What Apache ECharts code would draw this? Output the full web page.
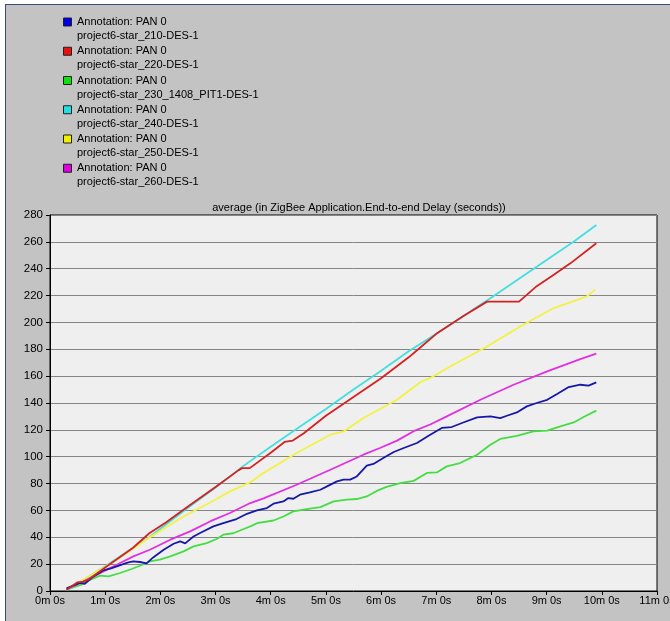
<!DOCTYPE html>
<html>
<head>
<meta charset="utf-8">
<title>ZigBee End-to-end Delay</title>
<script src="https://cdn.jsdelivr.net/npm/echarts@6/dist/echarts.min.js"></script>
<style>
  html, body { margin: 0; padding: 0; background: #ffffff; overflow: hidden; width: 670px; height: 621px; }
  #frame { position: absolute; left: 5px; top: 4px; width: 665px; height: 617px;
           background: #c3c3c3; border-left: 1px solid #3a4a78; border-top: 1px solid #3a4a78; box-sizing: border-box; }
  #chart { position: absolute; left: 0; top: 0; width: 670px; height: 621px; }
</style>
</head>
<body>
<div id="frame"></div>
<div id="chart"></div>
<script>
// Simulation time in minutes, average end-to-end delay in seconds.
const seriesNames = [
  'project6-star_210-DES-1',
  'project6-star_220-DES-1',
  'project6-star_230_1408_PIT1-DES-1',
  'project6-star_240-DES-1',
  'project6-star_250-DES-1',
  'project6-star_260-DES-1'
];
const annotation = 'Annotation: PAN 0';
const lineColors = ['#1818a8', '#d42222', '#44dd44', '#44dede', '#f2f244', '#e030e0'];
const legendColors = ['#0000e8', '#e81010', '#10e010', '#20e0e0', '#f0f000', '#e000e0'];

const xTickLabels = ['0m 0s', '1m 0s', '2m 0s', '3m 0s', '4m 0s', '5m 0s',
  '6m 0s', '7m 0s', '8m 0s', '9m 0s', '10m 0s', '11m 0s'];
const yTicks = [0, 20, 40, 60, 80, 100, 120, 140, 160, 180, 200, 220, 240, 260, 280];
const chartTitle = 'average (in ZigBee Application.End-to-end Delay (seconds))';

const star210 = [[0.3,2],[0.54,6],[0.63,5.4],[0.79,10.9],[0.97,15.4],[1.12,17.1],[1.3,19.6],
  [1.42,21.3],[1.51,22],[1.63,21.6],[1.75,20.6],[1.87,25],[2.06,30.7],[2.24,35.2],[2.36,36.9],
  [2.45,35.5],[2.6,40.6],[2.72,43.2],[2.96,48.1],[3.14,50.6],[3.38,53.6],[3.57,57.5],[3.75,60],
  [3.93,61.8],[4.05,65],[4.23,66.7],[4.32,69.2],[4.41,68.7],[4.53,71.7],[4.71,73.4],[4.9,75.4],
  [5.02,77.9],[5.2,81.6],[5.32,82.9],[5.44,82.9],[5.56,85.3],[5.74,93.3],[5.86,94.6],[6.04,99],
  [6.23,103.5],[6.41,106.5],[6.65,110.2],[6.86,115.6],[7.1,121.4],[7.28,122.1],[7.49,125.5],
  [7.74,129.3],[7.98,130],[8.16,128.8],[8.28,130.5],[8.46,133],[8.64,137.5],[8.82,140],
  [9.01,142.4],[9.19,146.7],[9.4,151.9],[9.61,153.6],[9.76,152.9],[9.9,155.3]];

const star220 = [[0.3,1],[0.5,6.5],[0.6,7],[0.7,8.5],[1.0,17.5],[1.5,32],[1.8,43],[2.1,51],
  [2.5,63],[3.0,77.5],[3.42,90],[3.48,91.5],[3.62,91.5],[4.0,103],[4.25,111],[4.4,112],
  [4.6,117.5],[5.0,130.5],[5.5,144.5],[6.0,158.5],[6.5,174],[6.7,181],[7.0,191.5],[7.5,205],
  [7.92,215.5],[8.5,215.5],[8.82,227],[9.13,235.5],[9.43,244],[9.9,259]];

const star230 = [[0.3,1],[0.57,4.7],[0.73,8.4],[0.91,11.4],[1.06,10.9],[1.27,13.4],[1.48,16.4],
  [1.63,18.8],[1.81,22],[1.99,23.3],[2.18,25.8],[2.42,29.5],[2.6,33.2],[2.84,35.7],[3.02,38.7],
  [3.14,41.9],[3.32,43],[3.5,46],[3.63,48.1],[3.75,50.5],[4.05,52.5],[4.23,55.5],[4.41,59.3],
  [4.65,61],[4.9,62.5],[5.14,66.7],[5.38,68],[5.56,68.5],[5.74,70.4],[5.92,74.5],[6.1,77.5],
  [6.35,80.4],[6.59,82],[6.83,87.9],[7.01,88.3],[7.19,92.8],[7.43,95.3],[7.74,101.5],
  [7.98,108.9],[8.16,113.2],[8.46,115.6],[8.76,118.8],[9.01,119.4],[9.25,122.6],[9.49,125.5],
  [9.67,129.6],[9.9,134.3]];

const star240 = [[0.3,0.5],[0.6,8],[1.0,18.5],[1.5,32],[1.8,40],[2.1,49.5],[2.5,62],[3.0,77],
  [3.5,93],[4.0,107.5],[4.5,121.5],[5.0,135.5],[5.5,150],[6.0,164],[6.5,178.5],[7.0,191.5],
  [7.5,205],[8.0,218.5],[8.5,232.5],[9.0,246.5],[9.5,260.5],[9.9,272.5]];

const star250 = [[0.3,1.5],[0.6,8.4],[1.21,23.3],[1.81,40],[2.42,55.5],[3.02,68.5],[3.26,74.2],
  [3.63,81],[3.87,87.9],[4.47,102.8],[5.08,116.4],[5.32,118.8],[5.68,128.8],[6.29,142.4],
  [6.71,155.5],[6.89,158.6],[7.31,168.5],[7.92,182.1],[8.52,197],[9.13,210.7],[9.73,219.4],
  [9.88,224.4]];

const star260 = [[0.3,1.5],[0.55,6],[0.79,10.9],[1.03,15.9],[1.21,19.6],[1.51,25.8],[1.81,30.7],
  [2.18,38.2],[2.54,44.4],[2.9,51.8],[3.26,58.1],[3.63,65.5],[3.87,69],[4.47,79.1],[5.08,90.3],
  [5.68,101.5],[5.98,106.5],[6.29,112],[6.59,119],[6.89,124],[7.19,130],[7.8,142.4],[8.4,153.6],
  [9.01,163.5],[9.61,172.7],[9.9,176.7]];

const seriesData = [star210, star220, star230, star240, star250, star260];
const seriesZ = [3, 5, 2, 2, 2, 2];

const FONT = '"Liberation Sans", Arial, sans-serif';

// Legend block: colour swatch plus a two-line caption per series
const legendGraphics = [];
seriesNames.forEach((name, i) => {
  const y0 = 22 + 29.25 * i;
  legendGraphics.push({
    type: 'rect', left: 63, top: y0 - 4.5,
    shape: { width: 8, height: 8 },
    style: { fill: legendColors[i], stroke: '#202020', lineWidth: 1 }
  });
  legendGraphics.push({
    type: 'text', left: 77, top: y0 - 5.5,
    style: { text: annotation, fill: '#000', font: '11px ' + FONT }
  });
  legendGraphics.push({
    type: 'text', left: 77, top: y0 + 8.5,
    style: { text: name, fill: '#000', font: '11px ' + FONT }
  });
});

const chart = echarts.init(document.getElementById('chart'), null, { renderer: 'canvas' });
chart.setOption({
  animation: false,
  backgroundColor: 'transparent',
  title: {
    text: chartTitle,
    left: 354, top: 197, textAlign: 'center',
    textStyle: { fontFamily: FONT, fontSize: 11, fontWeight: 'normal', color: '#000' }
  },
  graphic: legendGraphics,
  grid: {
    left: 50, right: 13, top: 215, bottom: 30,
    outerBoundsMode: 'none',
    containLabel: false,
    show: true, backgroundColor: '#efefef', borderColor: '#000', borderWidth: 1
  },
  xAxis: {
    type: 'value', min: 0, max: 11, interval: 1,
    axisLine: { show: true, onZero: false, lineStyle: { color: '#000', width: 1 } },
    axisTick: { show: true, length: 4, lineStyle: { color: '#000' } },
    axisLabel: {
      margin: 4, color: '#000', fontFamily: FONT, fontSize: 11,
      formatter: (v) => xTickLabels[Math.round(v)]
    },
    splitLine: { show: false }
  },
  yAxis: {
    type: 'value', min: yTicks[0], max: yTicks[yTicks.length - 1], interval: yTicks[1] - yTicks[0],
    axisLine: { show: true, lineStyle: { color: '#000', width: 1 } },
    axisTick: { show: true, length: 4, lineStyle: { color: '#000' } },
    axisLabel: { margin: 7, color: '#000', fontFamily: FONT, fontSize: 11.5 },
    splitLine: { show: true, lineStyle: { color: '#858585', width: 1 } }
  },
  series: seriesNames.map((name, i) => ({
    name: name,
    type: 'line',
    data: seriesData[i],
    z: seriesZ[i],
    showSymbol: false,
    symbol: 'none',
    lineStyle: { color: lineColors[i], width: 1.8 },
    itemStyle: { color: lineColors[i] }
  }))
});
</script>
</body>
</html>
